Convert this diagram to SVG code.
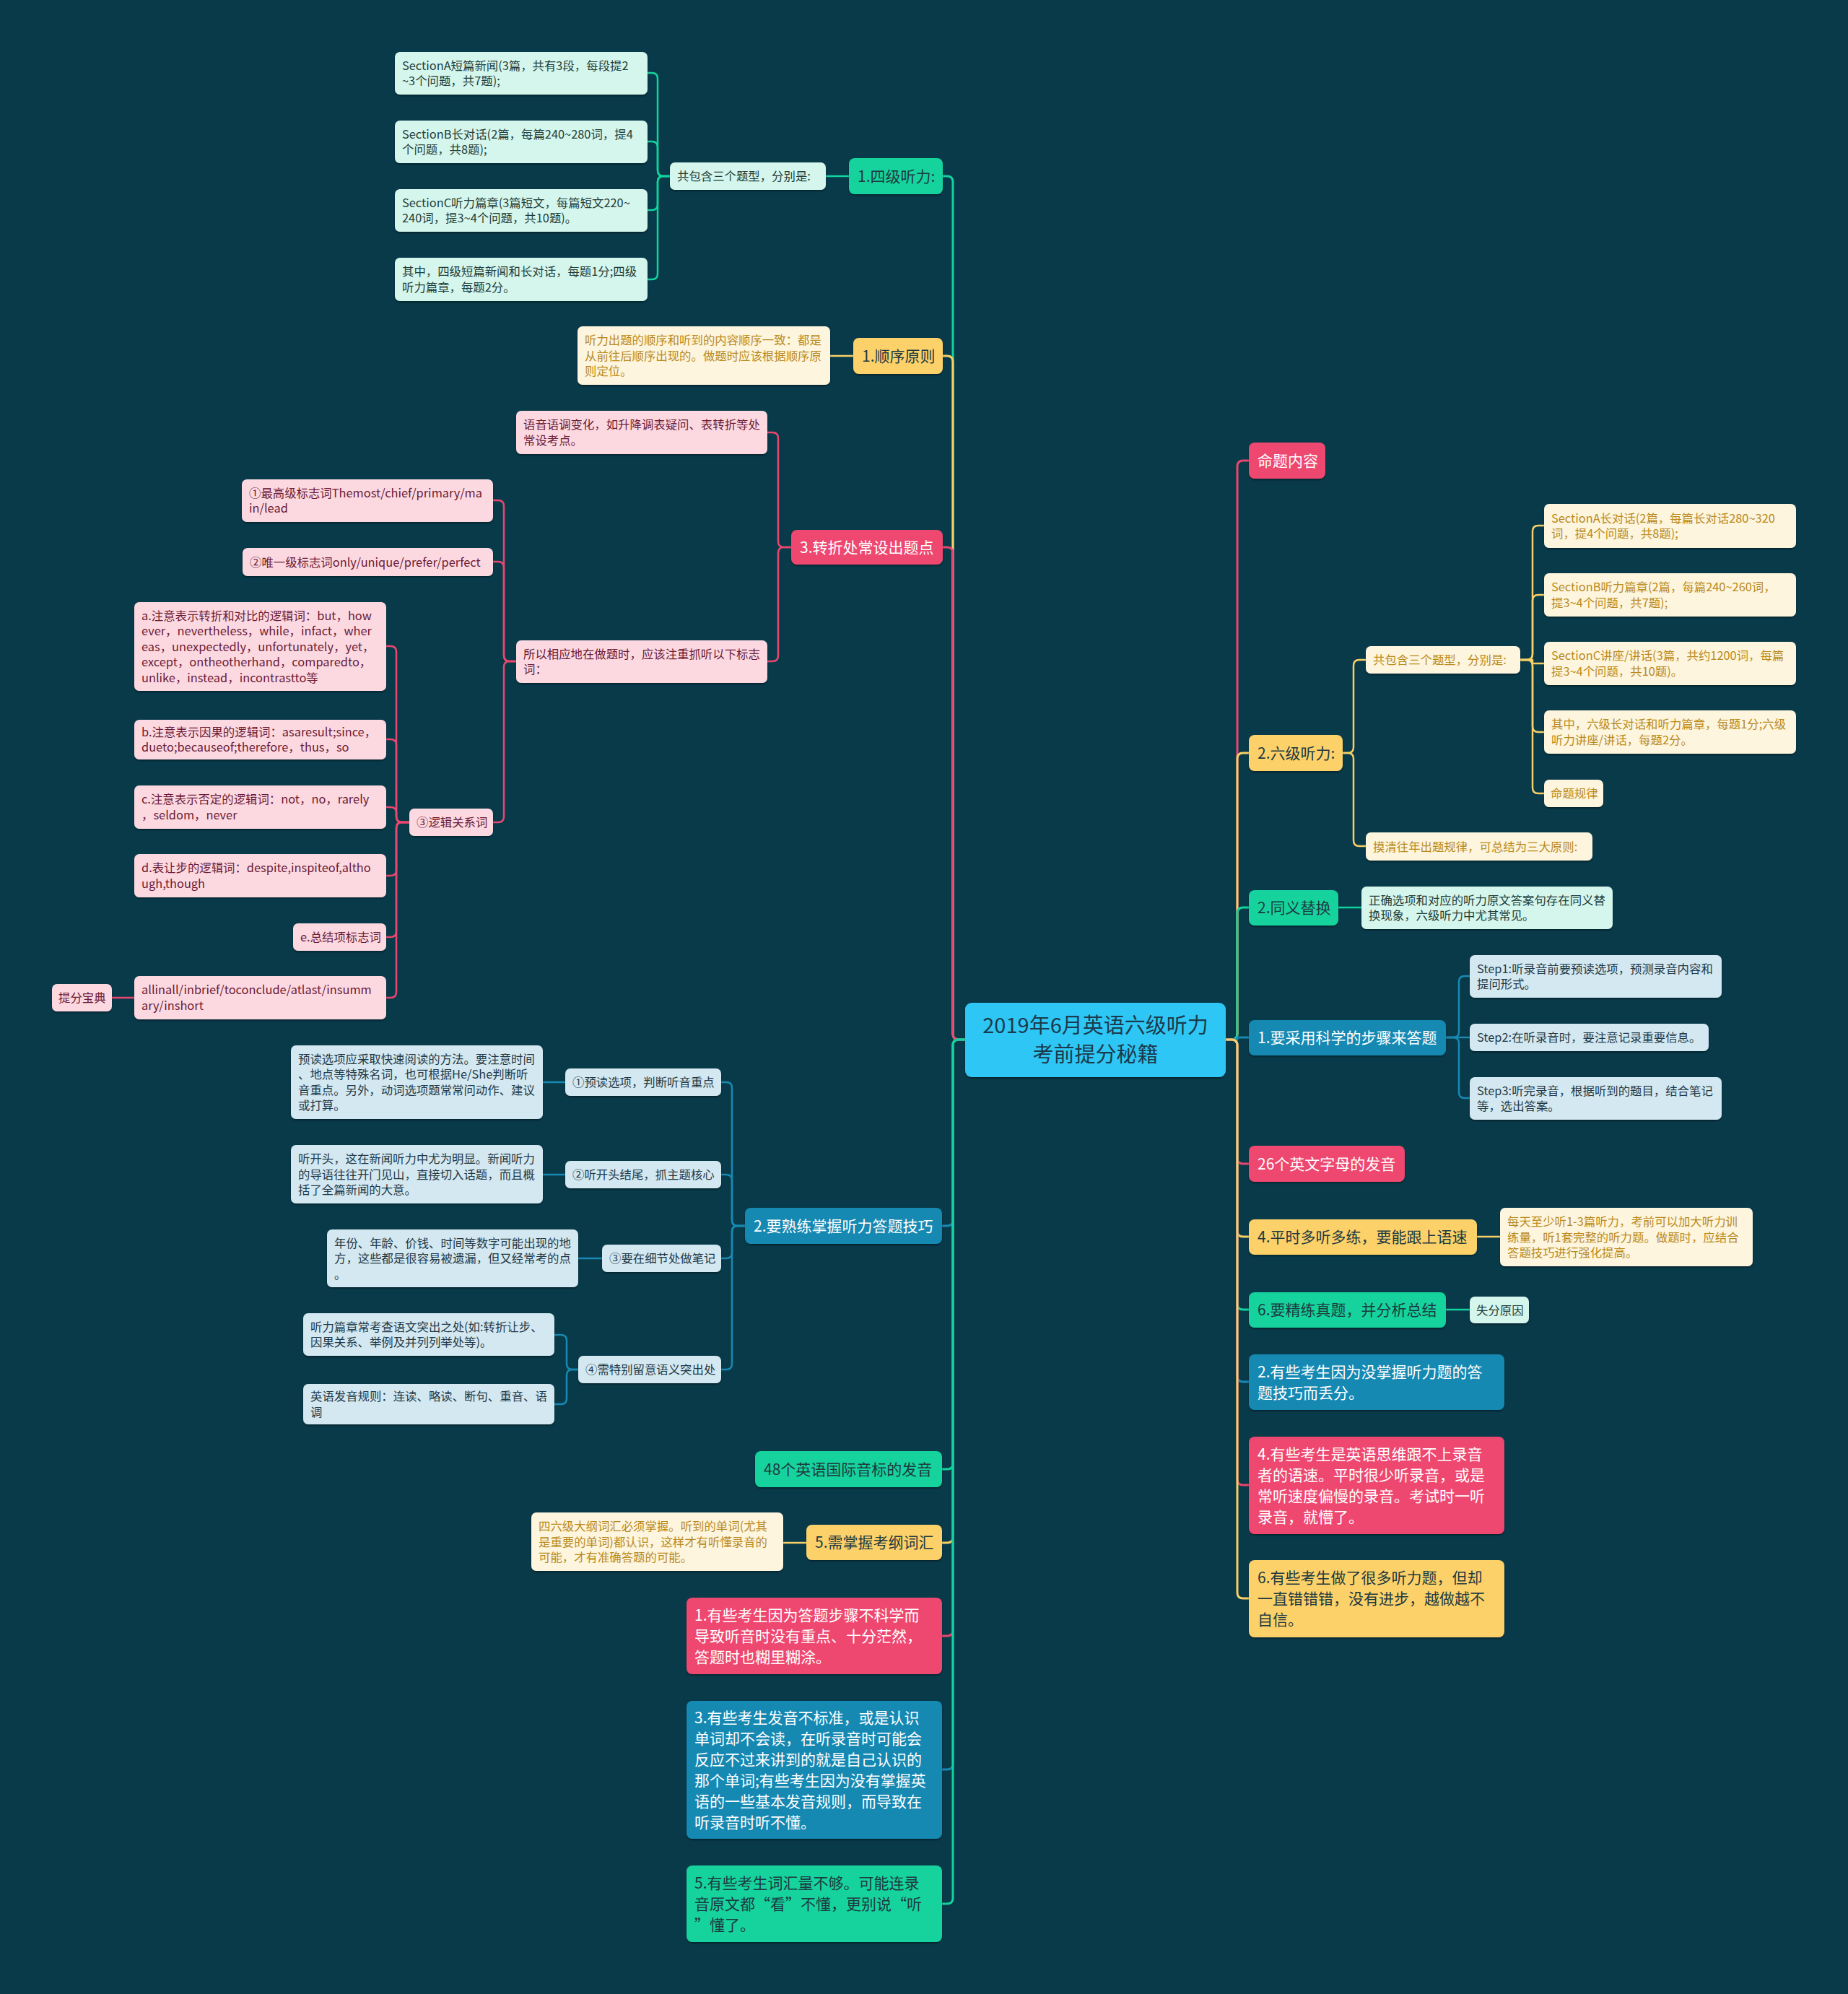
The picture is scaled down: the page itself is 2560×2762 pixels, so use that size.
<svg xmlns="http://www.w3.org/2000/svg" width="2560" height="2762" viewBox="0 0 2560 2762">
<defs>
<filter id="sh" x="-5%" y="-10%" width="110%" height="130%"><feDropShadow dx="0" dy="2" stdDeviation="1" flood-color="#000" flood-opacity="0.35"/></filter>
</defs>
<style>
text{font-family:"Noto Sans CJK SC","Noto Sans",sans-serif;}
rect.n{filter:url(#sh);}
.c-t{fill:#12d39d}.c-y{fill:#fdd169}.c-p{fill:#ee4670}.c-b{fill:#1589b3}.c-c{fill:#2ec6f4}
.s-t{fill:#d5f6ec}.s-y{fill:#fdf5dd}.s-p{fill:#fcd9e1}.s-b{fill:#d3e8f0}
.m{font-size:21px}.s{font-size:16.4px}.cen{font-size:29px;text-anchor:middle;fill:#1b3a4b}
.tw{fill:#ffffff}.td{fill:#1d3a40}.tyd{fill:#ba891c}.tpd{fill:#6b1a36}.tbd{fill:#1f3848}.ttd{fill:#1f3d3a}
path{fill:none;stroke-linecap:round;stroke-linejoin:round}
.l-t{stroke:#12d39d}.l-y{stroke:#f8cf66}.l-p{stroke:#e9476f}.l-b{stroke:#1889b1}
.w3{stroke-width:3}.w2{stroke-width:2.5}
</style>
<rect x="0" y="0" width="2560" height="2762" fill="#083a4a"/>

<g id="connectors">
<path class="l-t w3" d="M1337,1440 H1328 Q1320,1440 1320,1432 V252 Q1320,244 1312,244 H1306"/>
<path class="l-y w3" d="M1337,1440 H1328 Q1320,1440 1320,1432 V501 Q1320,493 1312,493 H1306"/>
<path class="l-p w3" d="M1337,1440 H1328 Q1320,1440 1320,1432 V766 Q1320,758 1312,758 H1306"/>
<path class="l-b w3" d="M1337,1440 H1328 Q1320,1440 1320,1448 V1690 Q1320,1698 1312,1698 H1305"/>
<path class="l-t w3" d="M1337,1440 H1328 Q1320,1440 1320,1448 V2027 Q1320,2035 1312,2035 H1305"/>
<path class="l-y w3" d="M1337,1440 H1328 Q1320,1440 1320,1448 V2129 Q1320,2137 1312,2137 H1305"/>
<path class="l-p w3" d="M1337,1440 H1328 Q1320,1440 1320,1448 V2258 Q1320,2266 1312,2266 H1305"/>
<path class="l-b w3" d="M1337,1440 H1328 Q1320,1440 1320,1448 V2443 Q1320,2451 1312,2451 H1305"/>
<path class="l-t w3" d="M1337,1440 H1328 Q1320,1440 1320,1448 V2629 Q1320,2637 1312,2637 H1305"/>

<path class="l-p w3" d="M1698,1440 H1706 Q1714,1440 1714,1432 V646 Q1714,638 1722,638 H1730"/>
<path class="l-y w3" d="M1698,1440 H1706 Q1714,1440 1714,1432 V1051 Q1714,1043 1722,1043 H1730"/>
<path class="l-t w3" d="M1698,1440 H1706 Q1714,1440 1714,1432 V1265 Q1714,1257 1722,1257 H1730"/>
<path class="l-b w3" d="M1698,1440 H1714 V1437 H1730"/>
<path class="l-p w3" d="M1698,1440 H1706 Q1714,1440 1714,1448 V1604 Q1714,1612 1722,1612 H1730"/>
<path class="l-y w3" d="M1698,1440 H1706 Q1714,1440 1714,1448 V1705 Q1714,1713 1722,1713 H1730"/>
<path class="l-t w3" d="M1698,1440 H1706 Q1714,1440 1714,1448 V1806 Q1714,1814 1722,1814 H1730"/>
<path class="l-b w3" d="M1698,1440 H1706 Q1714,1440 1714,1448 V1906 Q1714,1914 1722,1914 H1730"/>
<path class="l-p w3" d="M1698,1440 H1706 Q1714,1440 1714,1448 V2049 Q1714,2057 1722,2057 H1730"/>
<path class="l-y w3" d="M1698,1440 H1706 Q1714,1440 1714,1448 V2206 Q1714,2214 1722,2214 H1730"/>

<path class="l-t w2" d="M1176,244 H1144"/>
<path class="l-t w2" d="M928,244 H919 Q911,244 911,236 V109 Q911,101 903,101 H897"/>
<path class="l-t w2" d="M928,244 H919 Q911,244 911,236 V204 Q911,196 903,196 H897"/>
<path class="l-t w2" d="M928,244 H919 Q911,244 911,252 V283 Q911,291 903,291 H897"/>
<path class="l-t w2" d="M928,244 H919 Q911,244 911,252 V379 Q911,387 903,387 H897"/>

<path class="l-y w2" d="M1182,493 H1150"/>

<path class="l-p w2" d="M1096,758 H1086 Q1078,758 1078,750 V607 Q1078,599 1070,599 H1063"/>
<path class="l-p w2" d="M1096,758 H1086 Q1078,758 1078,766 V908 Q1078,916 1070,916 H1063"/>
<path class="l-p w2" d="M715,916 H706 Q698,916 698,908 V701 Q698,693 690,693 H683"/>
<path class="l-p w2" d="M715,916 H706 Q698,916 698,908 V786 Q698,778 690,778 H683"/>
<path class="l-p w2" d="M715,916 H706 Q698,916 698,924 V1131 Q698,1139 690,1139 H683"/>
<path class="l-p w2" d="M567,1139 H557 Q549,1139 549,1131 V903 Q549,895 541,895 H535"/>
<path class="l-p w2" d="M567,1139 H557 Q549,1139 549,1131 V1032 Q549,1024 541,1024 H535"/>
<path class="l-p w2" d="M567,1139 H557 Q549,1139 549,1131 V1126 Q549,1118 541,1118 H535"/>
<path class="l-p w2" d="M567,1139 H557 Q549,1139 549,1147 V1205 Q549,1213 541,1213 H535"/>
<path class="l-p w2" d="M567,1139 H557 Q549,1139 549,1147 V1290 Q549,1298 541,1298 H535"/>
<path class="l-p w2" d="M567,1139 H557 Q549,1139 549,1147 V1374 Q549,1382 541,1382 H535"/>
<path class="l-p w2" d="M186,1382 H155"/>

<path class="l-b w2" d="M1032,1698 H1022 Q1014,1698 1014,1690 V1507 Q1014,1499 1006,1499 H999"/>
<path class="l-b w2" d="M1032,1698 H1022 Q1014,1698 1014,1690 V1635 Q1014,1627 1006,1627 H999"/>
<path class="l-b w2" d="M1032,1698 H1022 Q1014,1698 1014,1706 V1735 Q1014,1743 1006,1743 H999"/>
<path class="l-b w2" d="M1032,1698 H1022 Q1014,1698 1014,1706 V1889 Q1014,1897 1006,1897 H999"/>
<path class="l-b w2" d="M783,1499 H752"/>
<path class="l-b w2" d="M783,1627 H752"/>
<path class="l-b w2" d="M834,1743 H801"/>
<path class="l-b w2" d="M801,1897 H793 Q785,1897 785,1889 V1857 Q785,1849 777,1849 H768"/>
<path class="l-b w2" d="M801,1897 H793 Q785,1897 785,1905 V1937 Q785,1945 777,1945 H768"/>

<path class="l-y w2" d="M1117,2137 H1085"/>

<path class="l-y w2" d="M1860,1043 H1867 Q1875,1043 1875,1035 V922 Q1875,914 1883,914 H1892"/>
<path class="l-y w2" d="M1860,1043 H1867 Q1875,1043 1875,1051 V1164 Q1875,1172 1883,1172 H1892"/>
<path class="l-y w2" d="M2106,914 H2115 Q2123,914 2123,906 V736 Q2123,728 2131,728 H2139"/>
<path class="l-y w2" d="M2106,914 H2115 Q2123,914 2123,906 V832 Q2123,824 2131,824 H2139"/>
<path class="l-y w2" d="M2106,914 H2123 V919 H2139"/>
<path class="l-y w2" d="M2106,914 H2115 Q2123,914 2123,922 V1006 Q2123,1014 2131,1014 H2139"/>
<path class="l-y w2" d="M2106,914 H2115 Q2123,914 2123,922 V1091 Q2123,1099 2131,1099 H2139"/>

<path class="l-t w2" d="M1854,1257 H1886"/>

<path class="l-b w2" d="M2003,1437 H2013 Q2021,1437 2021,1429 V1360 Q2021,1352 2029,1352 H2036"/>
<path class="l-b w2" d="M2003,1437 H2036"/>
<path class="l-b w2" d="M2003,1437 H2013 Q2021,1437 2021,1445 V1513 Q2021,1521 2029,1521 H2036"/>

<path class="l-y w2" d="M2046,1713 H2078"/>
<path class="l-t w2" d="M2003,1814 H2036"/>
</g>

<g id="center">
<rect class="n c-c" x="1337" y="1389" width="361" height="103" rx="9"/>
<text class="cen"><tspan x="1517.5" y="1430.5">2019年6月英语六级听力</tspan><tspan x="1517.5" y="1470.5">考前提分秘籍</tspan></text>
</g>

<g id="n-sijitingli">
<rect class="n c-t" x="1176" y="219" width="130" height="50" rx="8"/>
<text class="m td" x="1188" y="251.5">1.四级听力:</text>
</g>
<g id="n-sj-gongbaohan">
<rect class="n s-t" x="928" y="225" width="216" height="38" rx="7"/>
<text class="s ttd" x="938" y="250">共包含三个题型，分别是:</text>
</g>
<g id="n-sj-a">
<rect class="n s-t" x="547" y="72" width="350" height="59" rx="7"/>
<text class="s ttd"><tspan x="557" y="97">SectionA短篇新闻(3篇，共有3段，每段提2</tspan><tspan x="557" y="118">~3个问题，共7题);</tspan></text>
</g>
<g id="n-sj-b">
<rect class="n s-t" x="547" y="167" width="350" height="59" rx="7"/>
<text class="s ttd"><tspan x="557" y="192">SectionB长对话(2篇，每篇240~280词，提4</tspan><tspan x="557" y="213">个问题，共8题);</tspan></text>
</g>
<g id="n-sj-c">
<rect class="n s-t" x="547" y="262" width="350" height="59" rx="7"/>
<text class="s ttd"><tspan x="557" y="287">SectionC听力篇章(3篇短文，每篇短文220~</tspan><tspan x="557" y="308">240词，提3~4个问题，共10题)。</tspan></text>
</g>
<g id="n-sj-d">
<rect class="n s-t" x="547" y="357" width="350" height="60" rx="7"/>
<text class="s ttd"><tspan x="557" y="382">其中，四级短篇新闻和长对话，每题1分;四级</tspan><tspan x="557" y="404">听力篇章，每题2分。</tspan></text>
</g>

<g id="n-shunxu">
<rect class="n c-y" x="1182" y="468" width="124" height="50" rx="8"/>
<text class="m td" x="1194" y="500.5">1.顺序原则</text>
</g>
<g id="n-shunxu-a">
<rect class="n s-y" x="800" y="452" width="350" height="81" rx="7"/>
<text class="s tyd"><tspan x="810" y="477">听力出题的顺序和听到的内容顺序一致：都是</tspan><tspan x="810" y="498.5">从前往后顺序出现的。做题时应该根据顺序原</tspan><tspan x="810" y="520">则定位。</tspan></text>
</g>

<g id="n-zhuanzhe">
<rect class="n c-p" x="1096" y="734" width="210" height="48" rx="8"/>
<text class="m tw" x="1108" y="765.5">3.转折处常设出题点</text>
</g>
<g id="n-zz-yuyin">
<rect class="n s-p" x="715" y="569" width="348" height="60" rx="7"/>
<text class="s tpd"><tspan x="725" y="594">语音语调变化，如升降调表疑问、表转折等处</tspan><tspan x="725" y="616">常设考点。</tspan></text>
</g>
<g id="n-zz-suoyi">
<rect class="n s-p" x="715" y="887" width="348" height="59" rx="7"/>
<text class="s tpd"><tspan x="725" y="912">所以相应地在做题时，应该注重抓听以下标志</tspan><tspan x="725" y="933">词：</tspan></text>
</g>
<g id="n-zz-1">
<rect class="n s-p" x="335" y="664" width="348" height="59" rx="7"/>
<text class="s tpd"><tspan x="345" y="689">①最高级标志词Themost/chief/primary/ma</tspan><tspan x="345" y="710">in/lead</tspan></text>
</g>
<g id="n-zz-2">
<rect class="n s-p" x="336" y="759" width="347" height="39" rx="7"/>
<text class="s tpd" x="346" y="784.5">②唯一级标志词only/unique/prefer/perfect</text>
</g>
<g id="n-zz-3">
<rect class="n s-p" x="567" y="1120" width="116" height="38" rx="7"/>
<text class="s tpd" x="577" y="1145">③逻辑关系词</text>
</g>
<g id="n-zz-3a">
<rect class="n s-p" x="186" y="834" width="349" height="123" rx="7"/>
<text class="s tpd"><tspan x="196" y="858.5">a.注意表示转折和对比的逻辑词：but，how</tspan><tspan x="196" y="880">ever，nevertheless，while，infact，wher</tspan><tspan x="196" y="901.5">eas，unexpectedly，unfortunately，yet，</tspan><tspan x="196" y="923">except，ontheotherhand，comparedto，</tspan><tspan x="196" y="944.5">unlike，instead，incontrastto等</tspan></text>
</g>
<g id="n-zz-3b">
<rect class="n s-p" x="186" y="997" width="349" height="55" rx="7"/>
<text class="s tpd"><tspan x="196" y="1020">b.注意表示因果的逻辑词：asaresult;since，</tspan><tspan x="196" y="1041">dueto;becauseof;therefore，thus，so</tspan></text>
</g>
<g id="n-zz-3c">
<rect class="n s-p" x="186" y="1088" width="349" height="60" rx="7"/>
<text class="s tpd"><tspan x="196" y="1113">c.注意表示否定的逻辑词：not，no，rarely</tspan><tspan x="196" y="1135">，seldom，never</tspan></text>
</g>
<g id="n-zz-3d">
<rect class="n s-p" x="186" y="1183" width="349" height="60" rx="7"/>
<text class="s tpd"><tspan x="196" y="1208">d.表让步的逻辑词：despite,inspiteof,altho</tspan><tspan x="196" y="1230">ugh,though</tspan></text>
</g>
<g id="n-zz-3e">
<rect class="n s-p" x="406" y="1279" width="129" height="38" rx="7"/>
<text class="s tpd" x="416" y="1304">e.总结项标志词</text>
</g>
<g id="n-zz-3f">
<rect class="n s-p" x="186" y="1352" width="349" height="60" rx="7"/>
<text class="s tpd"><tspan x="196" y="1377">allinall/inbrief/toconclude/atlast/insumm</tspan><tspan x="196" y="1399">ary/inshort</tspan></text>
</g>
<g id="n-zz-tifen">
<rect class="n s-p" x="72" y="1363" width="83" height="38" rx="7"/>
<text class="s tpd" x="81" y="1388">提分宝典</text>
</g>

<g id="n-shulian">
<rect class="n c-b" x="1032" y="1673" width="273" height="50" rx="8"/>
<text class="m tw" x="1044" y="1705.5">2.要熟练掌握听力答题技巧</text>
</g>
<g id="n-sl-1">
<rect class="n s-b" x="783" y="1480" width="216" height="38" rx="7"/>
<text class="s tbd" x="793" y="1505">①预读选项，判断听音重点</text>
</g>
<g id="n-sl-1a">
<rect class="n s-b" x="403" y="1448" width="349" height="102" rx="7"/>
<text class="s tbd"><tspan x="413" y="1473">预读选项应采取快速阅读的方法。要注意时间</tspan><tspan x="413" y="1494">、地点等特殊名词，也可根据He/She判断听</tspan><tspan x="413" y="1516">音重点。另外，动词选项题常常问动作、建议</tspan><tspan x="413" y="1537">或打算。</tspan></text>
</g>
<g id="n-sl-2">
<rect class="n s-b" x="783" y="1608" width="216" height="38" rx="7"/>
<text class="s tbd" x="793" y="1633">②听开头结尾，抓主题核心</text>
</g>
<g id="n-sl-2a">
<rect class="n s-b" x="403" y="1586" width="349" height="81" rx="7"/>
<text class="s tbd"><tspan x="413" y="1611">听开头，这在新闻听力中尤为明显。新闻听力</tspan><tspan x="413" y="1632.5">的导语往往开门见山，直接切入话题，而且概</tspan><tspan x="413" y="1654">括了全篇新闻的大意。</tspan></text>
</g>
<g id="n-sl-3">
<rect class="n s-b" x="834" y="1724" width="165" height="38" rx="7"/>
<text class="s tbd" x="844" y="1749">③要在细节处做笔记</text>
</g>
<g id="n-sl-3a">
<rect class="n s-b" x="453" y="1703" width="348" height="80" rx="7"/>
<text class="s tbd"><tspan x="463" y="1727.5">年份、年龄、价钱、时间等数字可能出现的地</tspan><tspan x="463" y="1749">方，这些都是很容易被遗漏，但又经常考的点</tspan><tspan x="463" y="1770.5">。</tspan></text>
</g>
<g id="n-sl-4">
<rect class="n s-b" x="801" y="1878" width="198" height="38" rx="7"/>
<text class="s tbd" x="811" y="1903">④需特别留意语义突出处</text>
</g>
<g id="n-sl-4a">
<rect class="n s-b" x="420" y="1819" width="348" height="59" rx="7"/>
<text class="s tbd"><tspan x="430" y="1844">听力篇章常考查语文突出之处(如:转折让步、</tspan><tspan x="430" y="1865">因果关系、举例及并列列举处等)。</tspan></text>
</g>
<g id="n-sl-4b">
<rect class="n s-b" x="420" y="1917" width="348" height="56" rx="7"/>
<text class="s tbd"><tspan x="430" y="1940">英语发音规则：连读、略读、断句、重音、语</tspan><tspan x="430" y="1962">调</tspan></text>
</g>

<g id="n-48">
<rect class="n c-t" x="1046" y="2010" width="259" height="50" rx="8"/>
<text class="m td" x="1058" y="2042.5">48个英语国际音标的发音</text>
</g>
<g id="n-cihui">
<rect class="n c-y" x="1117" y="2112" width="188" height="49" rx="8"/>
<text class="m td" x="1129" y="2144">5.需掌握考纲词汇</text>
</g>
<g id="n-cihui-a">
<rect class="n s-y" x="736" y="2095" width="349" height="81" rx="7"/>
<text class="s tyd"><tspan x="746" y="2120">四六级大纲词汇必须掌握。听到的单词(尤其</tspan><tspan x="746" y="2141.5">是重要的单词)都认识，这样才有听懂录音的</tspan><tspan x="746" y="2163">可能，才有准确答题的可能。</tspan></text>
</g>
<g id="n-reason1">
<rect class="n c-p" x="951" y="2213" width="354" height="106" rx="8"/>
<text class="m tw"><tspan x="962" y="2244.5">1.有些考生因为答题步骤不科学而</tspan><tspan x="962" y="2273.5">导致听音时没有重点、十分茫然，</tspan><tspan x="962" y="2302.5">答题时也糊里糊涂。</tspan></text>
</g>
<g id="n-reason3">
<rect class="n c-b" x="951" y="2356" width="354" height="191" rx="8"/>
<text class="m tw"><tspan x="962" y="2386.5">3.有些考生发音不标准，或是认识</tspan><tspan x="962" y="2415.5">单词却不会读，在听录音时可能会</tspan><tspan x="962" y="2444.5">反应不过来讲到的就是自己认识的</tspan><tspan x="962" y="2473.5">那个单词;有些考生因为没有掌握英</tspan><tspan x="962" y="2502.5">语的一些基本发音规则，而导致在</tspan><tspan x="962" y="2531.5">听录音时听不懂。</tspan></text>
</g>
<g id="n-reason5">
<rect class="n c-t" x="951" y="2584" width="354" height="106" rx="8"/>
<text class="m td"><tspan x="962" y="2615.5">5.有些考生词汇量不够。可能连录</tspan><tspan x="962" y="2644.5">音原文都“看”不懂，更别说“听</tspan><tspan x="962" y="2673.5">”懂了。</tspan></text>
</g>

<g id="n-mingti">
<rect class="n c-p" x="1730" y="613" width="106" height="50" rx="8"/>
<text class="m tw" x="1742" y="645.5">命题内容</text>
</g>
<g id="n-liuji">
<rect class="n c-y" x="1730" y="1018" width="130" height="50" rx="8"/>
<text class="m td" x="1742" y="1050.5">2.六级听力:</text>
</g>
<g id="n-lj-gongbaohan">
<rect class="n s-y" x="1892" y="895" width="214" height="38" rx="7"/>
<text class="s tyd" x="1902" y="920">共包含三个题型，分别是:</text>
</g>
<g id="n-lj-a">
<rect class="n s-y" x="2139" y="698" width="349" height="61" rx="7"/>
<text class="s tyd"><tspan x="2149" y="724">SectionA长对话(2篇，每篇长对话280~320</tspan><tspan x="2149" y="745">词，提4个问题，共8题);</tspan></text>
</g>
<g id="n-lj-b">
<rect class="n s-y" x="2139" y="794" width="349" height="60" rx="7"/>
<text class="s tyd"><tspan x="2149" y="819">SectionB听力篇章(2篇，每篇240~260词，</tspan><tspan x="2149" y="841">提3~4个问题，共7题);</tspan></text>
</g>
<g id="n-lj-c">
<rect class="n s-y" x="2139" y="889" width="349" height="60" rx="7"/>
<text class="s tyd"><tspan x="2149" y="914">SectionC讲座/讲话(3篇，共约1200词，每篇</tspan><tspan x="2149" y="936">提3~4个问题，共10题)。</tspan></text>
</g>
<g id="n-lj-d">
<rect class="n s-y" x="2139" y="984" width="349" height="60" rx="7"/>
<text class="s tyd"><tspan x="2149" y="1009">其中，六级长对话和听力篇章，每题1分;六级</tspan><tspan x="2149" y="1031">听力讲座/讲话，每题2分。</tspan></text>
</g>
<g id="n-lj-guilv">
<rect class="n s-y" x="2139" y="1080" width="82" height="38" rx="7"/>
<text class="s tyd" x="2148" y="1105">命题规律</text>
</g>
<g id="n-lj-moqing">
<rect class="n s-y" x="1892" y="1153" width="314" height="39" rx="7"/>
<text class="s tyd" x="1902" y="1178.5">摸清往年出题规律，可总结为三大原则:</text>
</g>
<g id="n-tongyi">
<rect class="n c-t" x="1730" y="1233" width="124" height="49" rx="8"/>
<text class="m td" x="1742" y="1265">2.同义替换</text>
</g>
<g id="n-tongyi-a">
<rect class="n s-t" x="1886" y="1228" width="348" height="59" rx="7"/>
<text class="s ttd"><tspan x="1896" y="1253">正确选项和对应的听力原文答案句存在同义替</tspan><tspan x="1896" y="1274">换现象，六级听力中尤其常见。</tspan></text>
</g>
<g id="n-buzhou">
<rect class="n c-b" x="1730" y="1413" width="273" height="49" rx="8"/>
<text class="m tw" x="1742" y="1445">1.要采用科学的步骤来答题</text>
</g>
<g id="n-bz-1">
<rect class="n s-b" x="2036" y="1323" width="349" height="59" rx="7"/>
<text class="s tbd"><tspan x="2046" y="1348">Step1:听录音前要预读选项，预测录音内容和</tspan><tspan x="2046" y="1369">提问形式。</tspan></text>
</g>
<g id="n-bz-2">
<rect class="n s-b" x="2036" y="1418" width="331" height="38" rx="7"/>
<text class="s tbd" x="2046" y="1443">Step2:在听录音时，要注意记录重要信息。</text>
</g>
<g id="n-bz-3">
<rect class="n s-b" x="2036" y="1492" width="349" height="59" rx="7"/>
<text class="s tbd"><tspan x="2046" y="1517">Step3:听完录音，根据听到的题目，结合笔记</tspan><tspan x="2046" y="1538">等，选出答案。</tspan></text>
</g>
<g id="n-26">
<rect class="n c-p" x="1730" y="1587" width="216" height="50" rx="8"/>
<text class="m tw" x="1742" y="1619.5">26个英文字母的发音</text>
</g>
<g id="n-pingshi">
<rect class="n c-y" x="1730" y="1689" width="316" height="49" rx="8"/>
<text class="m td" x="1742" y="1721">4.平时多听多练，要能跟上语速</text>
</g>
<g id="n-pingshi-a">
<rect class="n s-y" x="2078" y="1673" width="350" height="81" rx="7"/>
<text class="s tyd"><tspan x="2088" y="1698">每天至少听1-3篇听力，考前可以加大听力训</tspan><tspan x="2088" y="1719.5">练量，听1套完整的听力题。做题时，应结合</tspan><tspan x="2088" y="1741">答题技巧进行强化提高。</tspan></text>
</g>
<g id="n-jinglian">
<rect class="n c-t" x="1730" y="1790" width="273" height="49" rx="8"/>
<text class="m td" x="1742" y="1822">6.要精练真题，并分析总结</text>
</g>
<g id="n-jinglian-a">
<rect class="n s-t" x="2036" y="1796" width="82" height="37" rx="7"/>
<text class="s ttd" x="2045" y="1820.5">失分原因</text>
</g>
<g id="n-reason2">
<rect class="n c-b" x="1730" y="1876" width="354" height="77" rx="8"/>
<text class="m tw"><tspan x="1742" y="1907.5">2.有些考生因为没掌握听力题的答</tspan><tspan x="1742" y="1936.5">题技巧而丢分。</tspan></text>
</g>
<g id="n-reason4">
<rect class="n c-p" x="1730" y="1990" width="354" height="135" rx="8"/>
<text class="m tw"><tspan x="1742" y="2022">4.有些考生是英语思维跟不上录音</tspan><tspan x="1742" y="2051">者的语速。平时很少听录音，或是</tspan><tspan x="1742" y="2080">常听速度偏慢的录音。考试时一听</tspan><tspan x="1742" y="2109">录音，就懵了。</tspan></text>
</g>
<g id="n-reason6">
<rect class="n c-y" x="1730" y="2161" width="354" height="107" rx="8"/>
<text class="m td"><tspan x="1742" y="2193">6.有些考生做了很多听力题，但却</tspan><tspan x="1742" y="2222">一直错错错，没有进步，越做越不</tspan><tspan x="1742" y="2251">自信。</tspan></text>
</g>
</svg>
